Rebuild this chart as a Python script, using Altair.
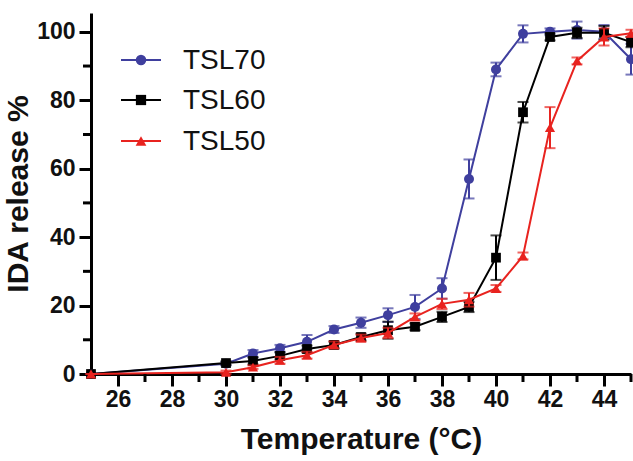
import altair as alt
import pandas as pd

temps = [25, 30, 31, 32, 33, 34, 35, 36, 37, 38, 39, 40, 41, 42, 43, 44, 45]
series_names = ["TSL70", "TSL60", "TSL50"]
tsl70 = [0, 3, 6, 7.5, 9.4, 13, 15, 17.2, 19.6, 25, 57, 89, 99.4, 100, 100.5, 100, 92]
tsl60 = [0, 3.2, 3.8, 5.3, 7.3, 8.5, 10.8, 12.8, 13.8, 16.7, 19.6, 34, 76.5, 98.5, 99.7, 99.7, 97]
tsl50 = [0, 0.5, 2, 4, 5.5, 8.5, 10.5, 12, 16.7, 20.5, 21.7, 25, 34.5, 72, 91.5, 98.5, 99.6]
err70 = [0, 0.5, 1, 1, 2, 1, 1.5, 2, 3.5, 3, 5.7, 2, 2.5, 1, 2.5, 2, 4.5]
err60 = [0, 0.5, 1, 1, 1, 1, 1, 2.5, 1, 1.5, 1.5, 6.5, 3, 1, 1.5, 2, 1.5]
err50 = [0, 0.5, 0.5, 1, 1, 1, 1, 1.5, 1, 1.5, 2, 1, 1, 6, 1, 2.5, 1]
colors = ["#3f3f9e", "#000000", "#e8231f"]
shapes = ["circle", "square", "triangle-up"]
sizes = [100, 95, 105]

x_major = [26, 28, 30, 32, 34, 36, 38, 40, 42, 44]
x_minor = [27, 29, 31, 33, 35, 37, 39, 41, 43, 45]
y_major = [0, 20, 40, 60, 80, 100]
y_minor = [10, 30, 50, 70, 90]

W, H = 540, 361
FONT = "Liberation Sans"

xs = alt.Scale(domain=[25, 45], nice=False, zero=False)
ys = alt.Scale(domain=[0, 105.5], nice=False)

x_axis = alt.Axis(values=x_major, format="d", title="Temperature (°C)")
y_axis = alt.Axis(values=y_major, format="d", title="IDA release %")

layers = []
all_vals = [tsl70, tsl60, tsl50]
all_errs = [err70, err60, err50]
for i, name in enumerate(series_names):
    df = pd.DataFrame({"t": temps, "v": all_vals[i], "e": all_errs[i]})
    df["lo"] = df["v"] - df["e"]
    df["hi"] = df["v"] + df["e"]
    base = alt.Chart(df)
    c = colors[i]
    rule = base.mark_rule(color=c, strokeWidth=2).encode(
        x=alt.X("t:Q", scale=xs, axis=x_axis),
        y=alt.Y("lo:Q", scale=ys, axis=y_axis),
        y2="hi:Q",
    )
    cap_hi = base.mark_tick(color=c, thickness=2, size=11, orient="horizontal").encode(
        x="t:Q", y="hi:Q"
    )
    cap_lo = base.mark_tick(color=c, thickness=2, size=11, orient="horizontal").encode(
        x="t:Q", y="lo:Q"
    )
    line = base.mark_line(color=c, strokeWidth=2).encode(x="t:Q", y="v:Q")
    pts = base.mark_point(
        color=c, filled=True, opacity=1, shape=shapes[i], size=sizes[i]
    ).encode(x="t:Q", y="v:Q")
    layers += [rule, cap_hi, cap_lo, line, pts]

# minor ticks
xminor = alt.Chart(pd.DataFrame({"t": x_minor})).mark_rule(
    color="black", strokeWidth=3
).encode(x="t:Q", y=alt.value(H), y2=alt.value(H + 8))
yminor = alt.Chart(pd.DataFrame({"v": y_minor})).mark_rule(
    color="black", strokeWidth=3
).encode(y="v:Q", x=alt.value(0), x2=alt.value(-8))
layers += [xminor, yminor]

# legend
leg_rows = [47, 87, 128]
one = pd.DataFrame({"k": [0]})
for i, name in enumerate(series_names):
    b = alt.Chart(one)
    layers.append(
        b.mark_rule(color=colors[i], strokeWidth=2).encode(
            x=alt.value(30), x2=alt.value(70), y=alt.value(leg_rows[i])
        )
    )
    layers.append(
        b.mark_point(color=colors[i], filled=True, opacity=1, shape=shapes[i], size=sizes[i] + 10).encode(
            x=alt.value(50), y=alt.value(leg_rows[i])
        )
    )
    layers.append(
        b.mark_text(
            text=name, font=FONT, fontSize=28, align="left", baseline="middle", color="#111111"
        ).encode(x=alt.value(92), y=alt.value(leg_rows[i] + 1))
    )

chart = (
    alt.layer(*layers)
    .properties(
        width=W,
        height=H,
        autosize=alt.AutoSizeParams(type="none"),
        padding={"left": 91, "top": 13, "right": 2, "bottom": 87},
    )
    .configure_view(stroke=None)
    .configure_axis(
        domainColor="black",
        domainWidth=3,
        tickColor="black",
        tickWidth=3,
        tickSize=12,
        grid=False,
        labelFont=FONT,
        labelFontWeight="bold",
        labelFontSize=23,
        labelColor="#111111",
        titleFont=FONT,
        titleFontWeight="bold",
        titleFontSize=30,
        titleColor="#111111",
    )
    .configure_axisX(labelPadding=2, titlePadding=13)
    .configure_axisY(labelPadding=4, titlePadding=3)
)

chart.save("out.html", embed_options={"renderer": "svg", "actions": False})
